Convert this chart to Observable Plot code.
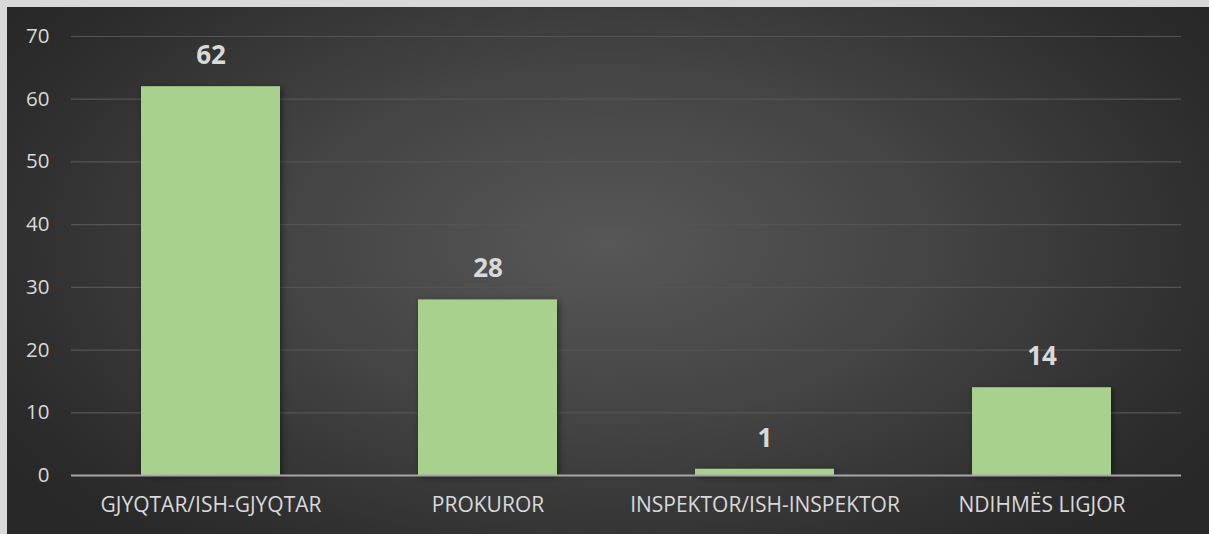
<!DOCTYPE html>
<html>
<head>
<meta charset="utf-8">
<script src="https://cdn.jsdelivr.net/npm/d3@7"></script>
<script src="https://cdn.jsdelivr.net/npm/@observablehq/plot@0.6"></script>
<style>
  html, body { margin: 0; padding: 0; background: #d9d9d9; }
  #panel {
    position: absolute; left: 7px; top: 7px; width: 1202px; height: 527px;
    background: radial-gradient(ellipse 60% 75% at 50% 45%, #575757 0%, #444 45%, #2e2e2e 85%, #282828 100%);
    overflow: hidden;
  }
  .bars rect { filter: drop-shadow(2px 2px 3px rgba(0,0,0,0.45)); }
</style>
</head>
<body>
<div id="panel"></div>
<script>
const categories = ["GJYQTAR/ISH-GJYQTAR", "PROKUROR", "INSPEKTOR/ISH-INSPEKTOR", "NDIHMËS LIGJOR"];
const values = [62, 28, 1, 14];
const yTicks = [0, 10, 20, 30, 40, 50, 60, 70];

const data = categories.map((c, i) => ({category: c, value: values[i]}));
const font = "'Open Sans', sans-serif";

const chart = Plot.plot({
  width: 1202,
  height: 527,
  marginLeft: 64,
  marginRight: 28,
  marginTop: 29,
  marginBottom: 59,
  style: {background: "transparent", fontFamily: font, color: "#d9d9d9", fontSize: "20px"},
  x: {domain: categories, paddingInner: 0.5, paddingOuter: 0.25, label: null},
  y: {domain: [0, 70], label: null, axis: null},
  marks: [
    Plot.ruleY(yTicks.filter(d => d > 0), {stroke: "#545454", strokeWidth: 1.2}),
    Plot.text(yTicks, {y: d => d, text: d => String(d), frameAnchor: "left", textAnchor: "end", dx: -22, fontSize: 20.5, fill: "#d9d9d9"}),
    Plot.axisX({tickSize: 0, tickPadding: 22, fontSize: 21, fill: "#d9d9d9", label: null}),
    Plot.barY(data, {x: "category", y: "value", fill: "#a9d18e", className: "bars"}),
    Plot.ruleY([0], {stroke: "#a6a6a6", strokeWidth: 2}),
    Plot.text(data, {x: "category", y: "value", text: d => String(d.value), dy: -31, fontSize: 26, fontWeight: "bold", fill: "#d9d9d9"})
  ]
});
document.getElementById("panel").appendChild(chart);
</script>
</body>
</html>
